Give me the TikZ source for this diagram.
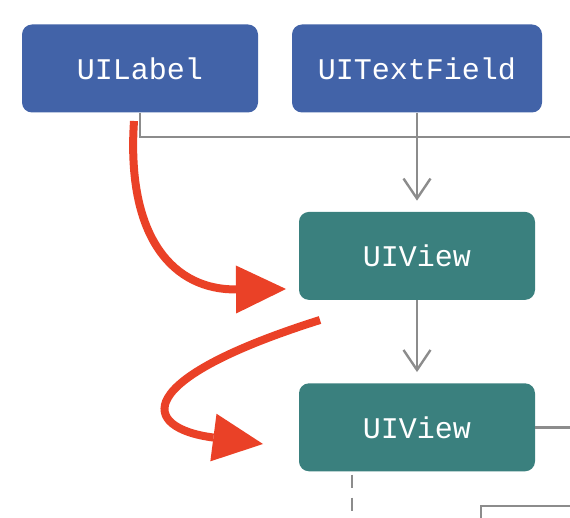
\documentclass[tikz,border=0pt]{standalone}
\usepackage{fontspec}
\newfontfamily\codefont{Liberation Mono}
\usetikzlibrary{arrows.meta,positioning}
\definecolor{cobalt}{RGB}{66,99,168}
\definecolor{sea}{RGB}{58,128,126}
\definecolor{flame}{RGB}{234,65,39}
\definecolor{wire}{RGB}{140,140,140}
\tikzset{
  cls/.style={fill=#1,rounded corners=10pt,minimum width=236pt,minimum height=88pt,
    inner sep=0pt,text=white,font=\codefont\fontsize{30}{36}\selectfont},
  cls/.default=cobalt,
  link/.style={draw=wire,line width=2.4pt},
  inherit/.style={link,-{Straight Barb[length=20pt,width=27pt]},shorten >=11pt},
  hop/.style={draw=flame,line width=8pt,-{Triangle[length=50pt,width=48pt,line width=0pt]}},
}

\begin{document}
\begin{tikzpicture}[x=1pt,y=-1pt]
  \useasboundingbox (0,0) rectangle (570,518);
  % class boxes
  \node[cls] (lbl) at (140,68.5) {UILabel};
  \node[cls,minimum width=250pt,right=33.6pt of lbl] (field) {UITextField};
  \node[cls=sea,below=99pt of field] (view) {UIView};
  \node[cls=sea,below=83pt of view] (sub) {UIView};
  % hierarchy lines
  \coordinate (rail) at (570,137);
  \coordinate (edge) at (570,0);
  \draw[link] (lbl.south) |- (rail);
  \draw[inherit] (field.south) -- (view.north);
  \draw[inherit] (view.south) -- (sub.north);
  \draw[link] (sub.east) -- (sub.east -| edge);
  \draw[link,dash pattern=on 13pt off 10pt] ([xshift=-65pt,yshift=-3pt]sub.south) -- ++(0,46);
  \coordinate (stub) at (481,520);
  \coordinate (stubend) at (570,506);
  \draw[link] (stub) |- (stubend);
  % responder hops
  \coordinate (h0) at (134,121);
  \coordinate (h1) at (286,289);
  \coordinate (h2) at (320,320);
  \coordinate (h3) at (263,444);
  \draw[hop] (h0) .. controls (126,240) and (175,290) .. (h1);
  \draw[hop] (h2) .. controls (130,380) and (140,428) .. (h3);
\end{tikzpicture}
\end{document}
